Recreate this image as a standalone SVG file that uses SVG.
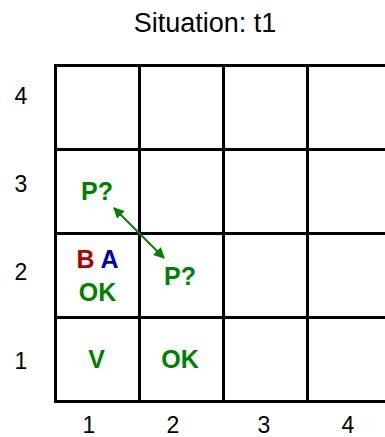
<svg xmlns="http://www.w3.org/2000/svg" width="385" height="437" viewBox="0 0 385 437">
<style>
.t{font-family:"Liberation Sans",Arial,sans-serif;fill:#000;text-anchor:middle}
.ax{font-size:23px}
.lb{font-family:"Liberation Sans",Arial,sans-serif;font-weight:bold;font-size:25px;text-anchor:middle;fill:#008000}
.grid{stroke:#000;stroke-width:3;fill:none}
.conn{stroke:#008000;stroke-width:2;fill:none}
</style>
<defs>
<marker id="ah" viewBox="0 0 10 10" refX="9" refY="5" markerWidth="5.5" markerHeight="5.5" orient="auto-start-reverse" markerUnits="strokeWidth">
<path d="M0,0 L10,5 L0,10 z" fill="#008000"/>
</marker>
</defs>
<rect width="385" height="437" fill="#fff"/>
<text class="t" x="205" y="31.5" font-size="27">Situation: t1</text>
<g id="grid" class="grid">
<path d="M55.5,65.5H392M55.5,149.5H392M55.5,233.5H392M55.5,317.5H392M55.5,401.5H392"/>
<path d="M55.5,64V403M139.5,64V403M223.5,64V403M307.5,64V403"/>
</g>
<g id="axes">
<text class="t ax" x="21" y="103.5">4</text>
<text class="t ax" x="21" y="191.5">3</text>
<text class="t ax" x="21" y="280">2</text>
<text class="t ax" x="21" y="368.5">1</text>
<text class="t ax" x="89" y="433">1</text>
<text class="t ax" x="173" y="433">2</text>
<text class="t ax" x="264" y="433">3</text>
<text class="t ax" x="348" y="433">4</text>
</g>
<g id="cell-1-3"><text class="lb" x="97" y="200">P?</text></g>
<g id="cell-1-2">
<text class="lb" x="97.5" y="268"><tspan fill="#b00000">B</tspan> <tspan fill="#0000b0">A</tspan></text>
<text class="lb" x="97.5" y="301">OK</text>
</g>
<g id="cell-2-2"><text class="lb" x="180" y="285">P?</text></g>
<g id="cell-1-1"><text class="lb" x="96.5" y="368">V</text></g>
<g id="cell-2-1"><text class="lb" x="180" y="368">OK</text></g>
<g id="connectors">
<line class="conn" x1="114" y1="208" x2="164" y2="258" marker-start="url(#ah)" marker-end="url(#ah)"/>
</g>
</svg>
